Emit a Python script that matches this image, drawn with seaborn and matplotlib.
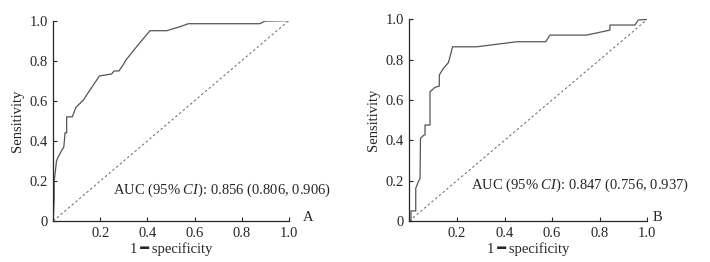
import matplotlib
matplotlib.use("Agg")
import matplotlib.pyplot as plt
import seaborn as sns
import pandas as pd

# ROC curve points (1 - specificity, sensitivity)
fpr_a = [0.0, 0.004, 0.004, 0.014, 0.021, 0.035, 0.045, 0.050, 0.057, 0.057,
         0.081, 0.096, 0.128, 0.156, 0.196, 0.227, 0.248, 0.258, 0.279, 0.297,
         0.309, 0.354, 0.411, 0.482, 0.538, 0.574, 0.878, 0.899, 1.0]
tpr_a = [0.0, 0.113, 0.20, 0.30, 0.32, 0.35, 0.37, 0.44, 0.44, 0.52,
         0.52, 0.567, 0.604, 0.654, 0.724, 0.73, 0.734, 0.749, 0.749, 0.78,
         0.804, 0.87, 0.95, 0.95, 0.97, 0.985, 0.985, 0.998, 1.0]

fpr_b = [0.0, 0.007, 0.007, 0.027, 0.027, 0.038, 0.045, 0.047, 0.062, 0.066,
         0.066, 0.087, 0.087, 0.108, 0.126, 0.126, 0.143, 0.164, 0.174, 0.178,
         0.182, 0.283, 0.451, 0.573, 0.591, 0.745, 0.843, 0.843, 0.948, 0.962, 1.0]
tpr_b = [0.0, 0.0, 0.05, 0.05, 0.162, 0.195, 0.21, 0.41, 0.427, 0.427,
         0.476, 0.476, 0.641, 0.663, 0.669, 0.724, 0.757, 0.785, 0.828, 0.848,
         0.864, 0.864, 0.889, 0.889, 0.922, 0.922, 0.947, 0.972, 0.972, 0.997, 1.0]

auc_labels = ["AUC (95% $\\mathit{CI}$): 0.856 (0.806, 0.906)",
              "AUC (95% $\\mathit{CI}$): 0.847 (0.756, 0.937)"]
panel_labels = ["A", "B"]

tick_vals = [0, 0.2, 0.4, 0.6, 0.8, 1.0]
ytick_labels = ["0", "0.2", "0.4", "0.6", "0.8", "1.0"]
xtick_labels = ["", "0.2", "0.4", "0.6", "0.8", "1.0"]

sns.set_style("ticks")
plt.rcParams["font.family"] = ["Liberation Serif", "DejaVu Sans"]
plt.rcParams["font.size"] = 10.5
plt.rcParams["mathtext.fontset"] = "custom"
plt.rcParams["mathtext.rm"] = "Liberation Serif"
plt.rcParams["mathtext.it"] = "Liberation Serif:italic"

fig = plt.figure(figsize=(7.1, 2.62), dpi=100)
ax_a = fig.add_axes([0.075, 0.1565, 0.3316, 0.7645])
ax_b = fig.add_axes([0.5765, 0.1565, 0.3352, 0.7695])

curves = [(fpr_a, tpr_a), (fpr_b, tpr_b)]
auc_pos = [(0.254, 0.155), (0.26, 0.178)]
label_x = [1.061, 1.024]

for i, ax in enumerate([ax_a, ax_b]):
    df = pd.DataFrame({"fpr": curves[i][0], "tpr": curves[i][1]})
    sns.lineplot(data=df, x="fpr", y="tpr", ax=ax, sort=False, estimator=None,
                 color="#555555", linewidth=0.9)
    diag = pd.DataFrame({"x": [0, 1], "y": [0, 1]})
    sns.lineplot(data=diag, x="x", y="y", ax=ax, color="#666666",
                 linewidth=0.7, linestyle=(0, (2.5, 2.5)))
    ax.set_xlim(0, 1)
    ax.set_ylim(0, 1)
    ax.set_xticks(tick_vals)
    ax.set_xticklabels(xtick_labels)
    ax.set_yticks(tick_vals)
    ax.set_yticklabels(ytick_labels)
    ax.tick_params(direction="in", length=3, width=0.8, labelsize=10.5, pad=4)
    ax.set_xlabel("1\u2009━\u2009specificity", labelpad=2)
    ax.set_ylabel("Sensitivity", labelpad=4)
    sns.despine(ax=ax)
    for s in ["left", "bottom"]:
        ax.spines[s].set_linewidth(0.9)
    ax.text(auc_pos[i][0], auc_pos[i][1], auc_labels[i], ha="left",
            va="center", fontsize=10.5, clip_on=False)
    ax.text(label_x[i], 0.0, panel_labels[i], transform=ax.transAxes,
            ha="left", va="baseline", fontsize=10.5)

fig.savefig("out.png", dpi=100)
